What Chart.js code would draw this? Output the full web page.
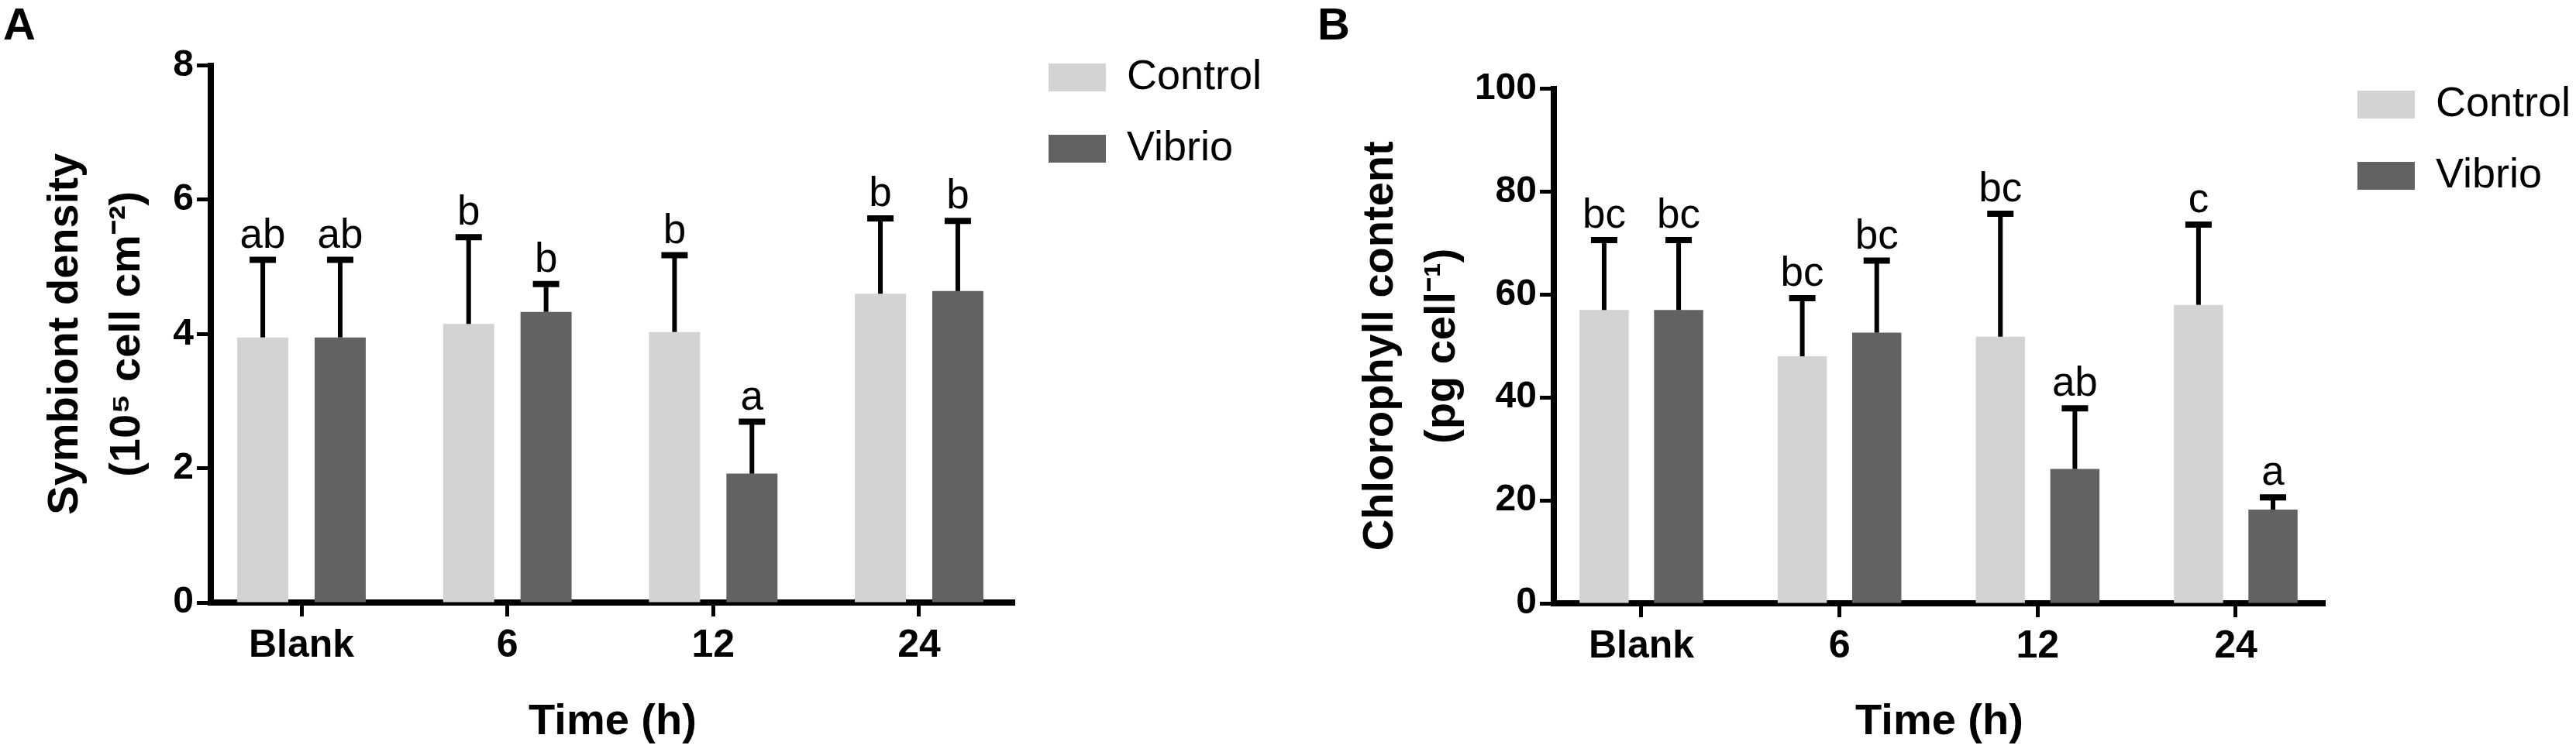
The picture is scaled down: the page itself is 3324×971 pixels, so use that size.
<!DOCTYPE html>
<html>
<head>
<meta charset="utf-8">
<title>Symbiont density and chlorophyll content</title>
<script src="https://cdn.jsdelivr.net/npm/chart.js@4.4.1/dist/chart.umd.min.js"></script>
<style>
  html, body { margin: 0; padding: 0; background: #fff; }
  body { position: relative; width: 3324px; height: 971px; overflow: hidden; }
  canvas { position: absolute; top: 0; }
  #chartA { left: 0; }
  #chartB { left: 1690px; }
</style>
</head>
<body>
<canvas id="chartA" width="1690" height="971"></canvas>
<canvas id="chartB" width="1634" height="971"></canvas>
<script>
// shared categories
var timeLabels = ['Blank', '6', '12', '24'];
var seriesNames = ['Control', 'Vibrio'];

// Panel A - symbiont density (10^5 cell cm^-2)
var densityTicks = [0, 2, 4, 6, 8];
var densityControl = [3.95, 4.15, 4.03, 4.60];
var densityControlSd = [1.20, 1.34, 1.19, 1.17];
var densityVibrio = [3.95, 4.33, 1.92, 4.64];
var densityVibrioSd = [1.20, 0.46, 0.82, 1.09];
var densityControlLetters = ['ab', 'b', 'b', 'b'];
var densityVibrioLetters = ['ab', 'b', 'a', 'b'];

// Panel B - chlorophyll content (pg cell^-1)
var chlTicks = [0, 20, 40, 60, 80, 100];
var chlControl = [57.0, 48.0, 51.8, 58.0];
var chlControlSd = [14.2, 11.9, 24.5, 16.2];
var chlVibrio = [57.0, 52.6, 26.1, 18.2];
var chlVibrioSd = [14.2, 14.6, 12.4, 3.0];
var chlControlLetters = ['bc', 'bc', 'bc', 'c'];
var chlVibrioLetters = ['bc', 'bc', 'ab', 'a'];

var FONT = '"Liberation Sans", Arial, Helvetica, sans-serif';
Chart.defaults.font.family = FONT;
Chart.defaults.color = '#000';

// error bars (mean + SD) and significance letters above each bar
var errorBars = {
    id: 'errorBars',
    afterDatasetsDraw: function(chart) {
        var ctx = chart.ctx;
        var yScale = chart.scales.y;
        ctx.save();
        ctx.strokeStyle = '#000';
        ctx.fillStyle = '#000';
        ctx.lineCap = 'butt';
        ctx.font = '53px ' + FONT;
        ctx.textAlign = 'center';
        ctx.textBaseline = 'alphabetic';
        chart.data.datasets.forEach(function(ds, i) {
            var meta = chart.getDatasetMeta(i);
            meta.data.forEach(function(bar, j) {
                var top = yScale.getPixelForValue(ds.data[j].y + ds.errors[j]);
                ctx.lineWidth = 6;
                ctx.beginPath();
                ctx.moveTo(bar.x, bar.y);
                ctx.lineTo(bar.x, top + 4);
                ctx.stroke();
                ctx.lineWidth = 8;
                ctx.beginPath();
                ctx.moveTo(bar.x - 17, top + 4);
                ctx.lineTo(bar.x + 17, top + 4);
                ctx.stroke();
                ctx.fillText(ds.letters[j], bar.x, top - 12);
            });
        });
        ctx.restore();
    }
};

// put the legend where the figure has it (right of the plot, near the top)
var legendPlacer = {
    id: 'legendPlacer',
    afterLayout: function(chart, args, opts) {
        var lg = chart.legend;
        var w = lg.width, h = lg.height;
        lg.left = opts.left;
        lg.top = opts.top;
        lg.right = opts.left + w;
        lg.bottom = opts.top + h;
    }
};

function toPoints(values) {
    return values.map(function(v, i) { return { x: i, y: v }; });
}

function panel(id, o) {
    return new Chart(document.getElementById(id), {
        type: 'bar',
        data: {
            datasets: [{
                label: seriesNames[0],
                data: toPoints(o.control),
                errors: o.controlSd,
                letters: o.controlLetters,
                backgroundColor: '#d3d3d3',
                borderWidth: 0,
                categoryPercentage: 0.752,
                barPercentage: 0.66
            }, {
                label: seriesNames[1],
                data: toPoints(o.vibrio),
                errors: o.vibrioSd,
                letters: o.vibrioLetters,
                backgroundColor: '#626262',
                borderWidth: 0,
                categoryPercentage: 0.752,
                barPercentage: 0.66
            }]
        },
        options: {
            responsive: false,
            animation: false,
            devicePixelRatio: 1,
            layout: { padding: o.padding },
            scales: {
                x: {
                    type: 'linear',
                    min: o.xMin,
                    max: o.xMax,
                    offset: false,
                    afterBuildTicks: function(s) {
                        s.ticks = timeLabels.map(function(_, i) { return { value: i }; });
                    },
                    afterFit: function(s) { s.height = o.xHeight; },
                    ticks: {
                        includeBounds: false,
                        padding: 8,
                        font: { size: 50, weight: 'bold' },
                        color: '#000',
                        callback: function(v) { return timeLabels[v]; }
                    },
                    grid: {
                        offset: false,
                        drawOnChartArea: false,
                        drawTicks: true,
                        tickLength: 18,
                        tickWidth: 5,
                        tickColor: '#000',
                        color: '#000'
                    },
                    border: { display: true, color: '#000', width: 8 },
                    title: {
                        display: true,
                        text: 'Time (h)',
                        font: { size: 56, weight: 'bold' },
                        color: '#000',
                        padding: { top: 0, bottom: 5 }
                    }
                },
                y: {
                    min: o.yTicks[0],
                    max: o.yTicks[o.yTicks.length - 1],
                    afterBuildTicks: function(s) {
                        s.ticks = o.yTicks.map(function(v) { return { value: v }; });
                    },
                    afterFit: function(s) { s.width = o.yWidth; },
                    ticks: {
                        padding: 4,
                        font: { size: 48, weight: 'bold' },
                        color: '#000'
                    },
                    grid: {
                        drawOnChartArea: false,
                        drawTicks: true,
                        tickLength: 18,
                        tickWidth: 5,
                        tickColor: '#000',
                        color: '#000'
                    },
                    border: { display: true, color: '#000', width: 8 },
                    title: {
                        display: true,
                        text: o.yTitle,
                        font: { size: 56, weight: 'bold', lineHeight: 1.4286 },
                        color: '#000',
                        padding: { top: o.yTitlePad, bottom: 0 }
                    }
                }
            },
            plugins: {
                title: {
                    display: true,
                    text: o.letter,
                    align: 'start',
                    font: { size: 58, weight: 'bold' },
                    color: '#000',
                    padding: { top: 0, bottom: o.letterPad }
                },
                legend: {
                    position: 'chartArea',
                    align: 'start',
                    labels: {
                        boxWidth: 74,
                        boxHeight: 36,
                        padding: 38,
                        color: '#000',
                        font: { size: 54 }
                    }
                },
                legendPlacer: o.legendAt,
                tooltip: { enabled: false }
            }
        },
        plugins: [errorBars, legendPlacer]
    });
}

panel('chartA', {
    letter: 'A',
    letterPad: 15,
    control: densityControl,
    controlSd: densityControlSd,
    controlLetters: densityControlLetters,
    vibrio: densityVibrio,
    vibrioSd: densityVibrioSd,
    vibrioLetters: densityVibrioLetters,
    yTicks: densityTicks,
    yTitle: ['Symbiont density', '(10\u2075 cell cm\u207B\u00B2)'],
    yTitlePad: 41,
    yWidth: 268,
    xHeight: 193,
    xMin: -0.4405,
    xMax: 3.463,
    padding: { left: 4, right: 381, top: 0, bottom: 0 },
    legendAt: { left: 1315, top: 35 }
});

panel('chartB', {
    letter: 'B',
    letterPad: 45,
    control: chlControl,
    controlSd: chlControlSd,
    controlLetters: chlControlLetters,
    vibrio: chlVibrio,
    vibrioSd: chlVibrioSd,
    vibrioLetters: chlVibrioLetters,
    yTicks: chlTicks,
    yTitle: ['Chlorophyll content', '(pg cell\u207B\u00B9)'],
    yTitlePad: 42,
    yWidth: 305,
    xHeight: 192,
    xMin: -0.442,
    xMax: 3.45,
    padding: { left: 10, right: 324, top: 0, bottom: 0 },
    legendAt: { left: 1314, top: 70 }
});
</script>
</body>
</html>
